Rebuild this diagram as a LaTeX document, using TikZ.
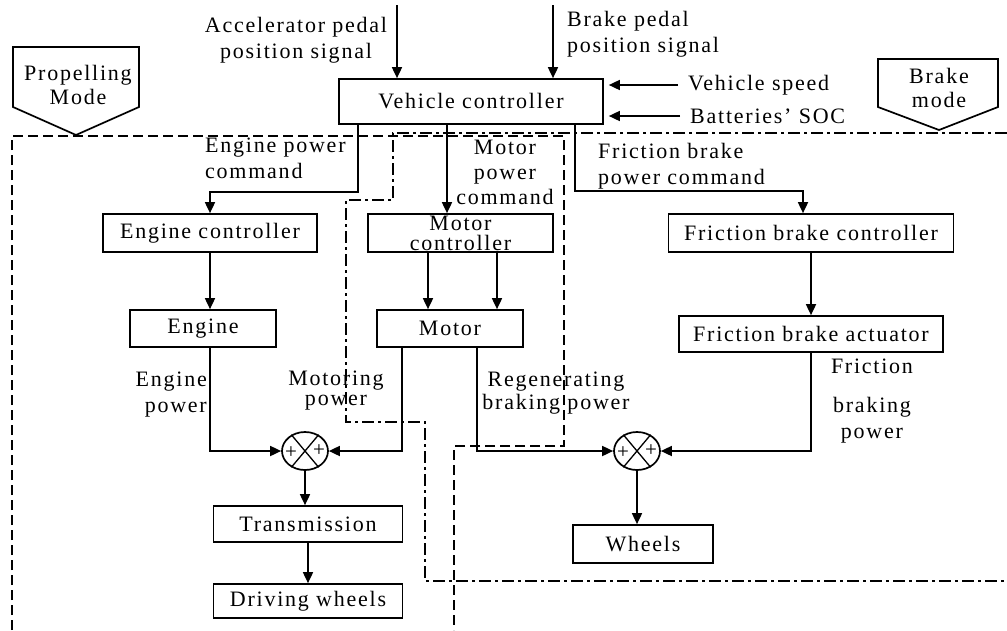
\documentclass[tikz,border=0pt]{standalone}
\usepackage{fontspec}
\setmainfont[LetterSpace=8]{Liberation Serif}
\usetikzlibrary{shapes.geometric, arrows.meta, positioning, calc}

\begin{document}
\begin{tikzpicture}[
    x=1pt, y=-1pt,
    every node/.style={font=\fontsize{22}{26}\selectfont},
    box/.style={rectangle, draw, line width=1.7pt, inner sep=0pt, align=center},
    sumj/.style={ellipse, draw, line width=1.7pt, minimum width=46pt,
                 minimum height=38pt, inner sep=0pt},
    sgn/.style={font=\fontsize{21}{21}\selectfont, inner sep=0pt},
    lbl/.style={inner sep=0pt, align=center},
    arr/.style={-{Triangle[length=11pt,width=10pt]}, line width=1.7pt},
    propb/.style={line width=1.4pt, dash pattern=on 10pt off 5pt},
    brkb/.style={line width=1.4pt, dash pattern=on 12pt off 4pt on 3pt off 4pt}
]
\useasboundingbox (0,0) rectangle (1007,630);

% mode boundaries
\draw[propb] (12,630) -- (12,136) -- (564,136) -- (564,446) -- (454,446) -- (454,630);
\draw[brkb] (1007,133) -- (393,133) -- (393,200) -- (346,200) -- (346,422)
    -- (425,422) -- (425,581) -- (1007,581);

% mode tags
\draw[line width=1.7pt] (13,47) -- (139,47) -- (139,107) -- (76,135) -- (13,107) -- cycle;
\node[lbl] (propel) at (78,85) {Propelling\\[-2pt]Mode};
\draw[line width=1.7pt] (878,59) -- (998,59) -- (998,107) -- (939,130) -- (878,107) -- cycle;
\node[lbl] (brkmode) at (939,88) {Brake\\[-2pt]mode};

% blocks
\node[box, minimum width=264pt, minimum height=45pt] (vc) at (471,101.5) {Vehicle controller};
\node[box, minimum width=214pt, minimum height=38pt] (engctrl) at (210,233) {Engine controller};
\node[box, minimum width=185pt, minimum height=38pt] (motctrl) at (460.5,233) {Motor\\[-6pt]controller};
\node[box, minimum width=285pt, minimum height=38pt] (fbc) at (811,233) {Friction brake controller};
\node[box, minimum width=146pt, minimum height=37pt] (eng) at (203,328.5) {Engine};
\node[box, minimum width=146pt, minimum height=37pt] (mot) at (450,328.5) {Motor};
\node[box, minimum width=264pt, minimum height=36pt] (fba) at (811,334) {Friction brake actuator};
\node[box, minimum width=189pt, minimum height=36pt] (trans) at (308,524) {Transmission};
\node[box, minimum width=189pt, minimum height=34pt] (drive) at (308,601) {Driving wheels};
\node[box, minimum width=140pt, minimum height=38pt] (wheels) at (643,544) {Wheels};

% summing junctions
\node[sumj] (sumL) at (305,451) {};
\node[sumj] (sumR) at (637,451) {};
\draw[line width=1.3pt] (sumL.130) -- (sumL.-50) (sumL.50) -- (sumL.-130);
\draw[line width=1.3pt] (sumR.130) -- (sumR.-50) (sumR.50) -- (sumR.-130);
\node[sgn] (sumLa) at ([xshift=-14pt,yshift=-2pt]sumL.center) {+};
\node[sgn] (sumLb) at ([xshift=14pt]sumL.center) {+};
\node[sgn] (sumRa) at ([xshift=-14pt,yshift=-2pt]sumR.center) {+};
\node[sgn] (sumRb) at ([xshift=14pt]sumR.center) {+};

% inputs of the vehicle controller
\coordinate (accin) at (397,5);
\coordinate (brkin) at (553,5);
\node[lbl] (acctxt) at (296,40) {Accelerator pedal\\position signal};
\node[lbl, align=left, anchor=west] (brktxt) at (567,34) {Brake pedal\\position signal};
\node[lbl, anchor=west] (spd) at (688,85) {Vehicle speed};
\node[lbl, anchor=west] (soc) at (690,116) {Batteries’ SOC};
\draw[arr] (accin) -- (accin |- vc.north);
\draw[arr] (brkin) -- (brkin |- vc.north);
\draw[arr, shorten <=10pt, shorten >=5pt] (spd.west) -- (spd.west -| vc.east);
\draw[arr, shorten <=10pt, shorten >=5pt] (soc.west) -- (soc.west -| vc.east);

% power commands
\coordinate (ecorner) at (358,192);
\coordinate (mcmd) at (447,170);
\coordinate (fdrop) at (575,191);
\coordinate (fcorner) at (803,191);
\draw[arr] (ecorner |- vc.south) -- (ecorner) -| (engctrl.north);
\draw[arr] (mcmd |- vc.south) -- (mcmd |- motctrl.north);
\draw[arr] (fdrop |- vc.south) -- (fdrop) -- (fcorner) -- (fcorner |- fbc.north);
\node[lbl, align=left, anchor=west] (ecmdtxt) at (205,158) {Engine power\\command};
\node[lbl] (mcmdtxt) at (505,172) {Motor\\[-1pt]power\\[-1pt]command};
\node[lbl, align=left, anchor=west] (fcmdtxt) at (598,166) {Friction brake\\power command};

% controllers to actuators
\coordinate (mc1) at ([xshift=-32.5pt]motctrl.south);
\coordinate (mc2) at ([xshift=36.5pt]motctrl.south);
\draw[arr] (engctrl.south) -- (engctrl.south |- eng.north);
\draw[arr] (mc1) -- (mc1 |- mot.north);
\draw[arr] (mc2) -- (mc2 |- mot.north);
\draw[arr] (fbc.south) -- (fbc.south |- fba.north);

% power flows
\coordinate (mo1) at ([xshift=-48pt]mot.south);
\coordinate (mo2) at ([xshift=27pt]mot.south);
\draw[arr] (eng.south -| engctrl.south) |- (sumL.west);
\draw[arr] (mo1) |- (sumL.east);
\draw[arr] (mo2) |- (sumR.west);
\draw[arr] (fba.south) |- (sumR.east);
\draw[arr] (sumL.south) -- (sumL.south |- trans.north);
\draw[arr] (trans.south) -- (trans.south |- drive.north);
\draw[arr] (sumR.south) -- (sumR.south |- wheels.north);
\node[lbl, align=right, anchor=east] (epw) at (207,395) {Engine\\power};
\node[lbl] (mpw) at (336,391) {Motoring\\[-6pt]power};
\node[lbl] (rbp) at (556,393) {Regenerating\\[-3pt]braking power};
\node[lbl] (fbp) at (872,401) {Friction\\[13pt]braking\\power};
\end{tikzpicture}
\end{document}
